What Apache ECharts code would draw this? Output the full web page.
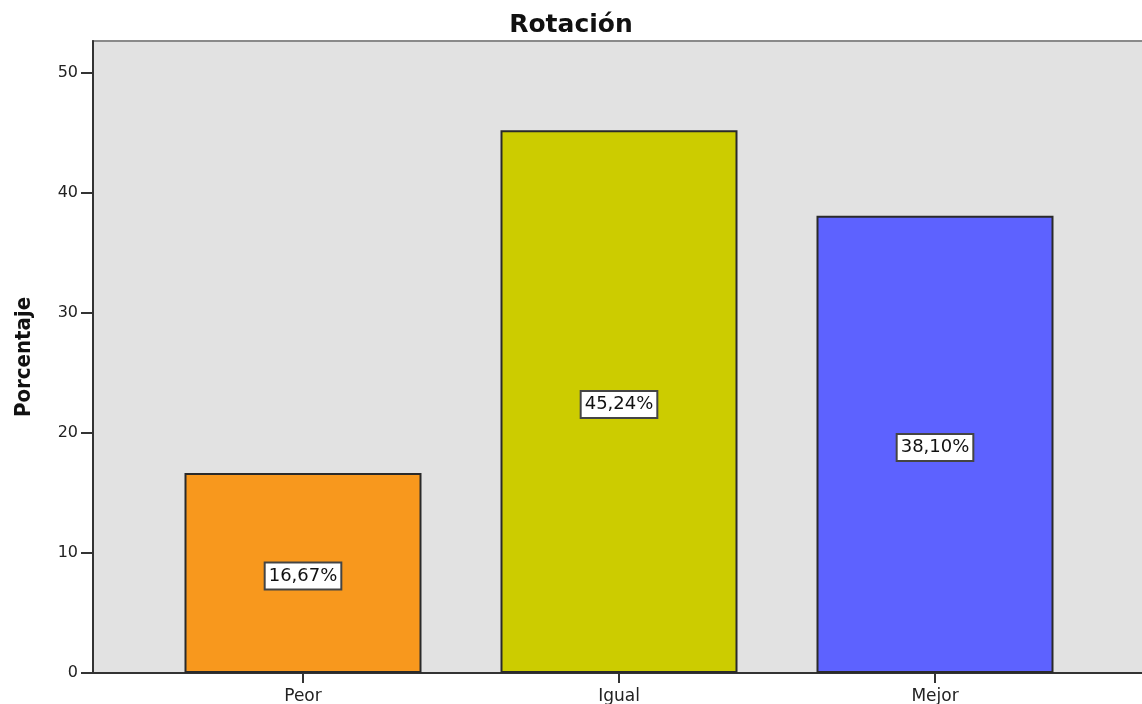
<!DOCTYPE html>
<html>
<head>
<meta charset="utf-8">
<script src="https://cdn.jsdelivr.net/npm/echarts@6/dist/echarts.min.js"></script>
<style>html,body{margin:0;padding:0;background:#fff;}#c{width:1142px;height:704px;}</style>
</head>
<body>
<div id="c"></div>
<script>
const categories = ['Peor', 'Igual', 'Mejor'];
const values = [16.67, 45.24, 38.10];
const colors = ['#F8981D', '#CCCC00', '#5D62FF'];
const yTicks = [0, 10, 20, 30, 40, 50];
const titleText = 'Rotación';
const yName = 'Porcentaje';

const YMAX = 52.67;
const chart = echarts.init(document.getElementById('c'), null, {renderer: 'canvas'});
const font = "'DejaVu Sans', Verdana, sans-serif";
chart.setOption({
  animation: false,
  backgroundColor: '#fff',
  title: {
    text: titleText, left: 'center', top: 8,
    textStyle: {fontFamily: font, fontWeight: 'bold', fontSize: 25, color: '#111'}
  },
  grid: [
    {left: 93, top: 41, right: -3, bottom: 31, outerBoundsMode: 'none', containLabel: false, show: true, backgroundColor: '#E2E2E2', borderColor: '#8a8a8a', borderWidth: 2},
    {left: 145, top: 41, width: 948, bottom: 31, outerBoundsMode: 'none', containLabel: false}
  ],
  xAxis: [
    {gridIndex: 0, type: 'value', min: 0, max: 1, axisLine: {show: true, onZero: false, lineStyle: {color: '#333', width: 2}},
     axisTick: {show: false}, axisLabel: {show: false}, splitLine: {show: false}},
    {gridIndex: 1, type: 'category', data: categories, boundaryGap: true,
     axisLine: {show: false}, axisTick: {show: true, alignWithLabel: true, length: 10, lineStyle: {color: '#333', width: 2}},
     axisLabel: {margin: 15, fontFamily: font, fontSize: 17, color: '#222'}}
  ],
  yAxis: [
    {gridIndex: 0, type: 'value', min: 0, max: YMAX, interval: 10,
     name: yName, nameLocation: 'middle', nameRotate: 90, nameGap: 58,
     nameTextStyle: {fontFamily: "'DejaVu Sans Condensed', 'Liberation Sans Narrow', sans-serif", fontWeight: 'bold', fontSize: 22, color: '#111'},
     axisLine: {show: true, lineStyle: {color: '#333', width: 2}},
     axisTick: {show: true, length: 12, customValues: yTicks, lineStyle: {color: '#333', width: 2}},
     axisLabel: {margin: 15, customValues: yTicks, fontFamily: font, fontSize: 16, color: '#222'},
     splitLine: {show: false}},
    {gridIndex: 1, type: 'value', min: 0, max: YMAX, show: false, splitLine: {show: false}}
  ],
  series: [{
    type: 'bar', xAxisIndex: 1, yAxisIndex: 1,
    barWidth: 237,
    data: values.map((v, i) => ({value: v, itemStyle: {color: colors[i]}})),
    itemStyle: {borderColor: '#2a2a2a', borderWidth: 2},
    label: {
      show: true, position: 'inside', offset: [0, 3],
      formatter: p => p.value.toFixed(2).replace('.', ',') + '%',
      fontFamily: font, fontSize: 18, color: '#111',
      backgroundColor: '#fff', borderColor: '#444', borderWidth: 2,
      padding: [4, 3, 3, 3]
    }
  }]
});
</script>
</body>
</html>
